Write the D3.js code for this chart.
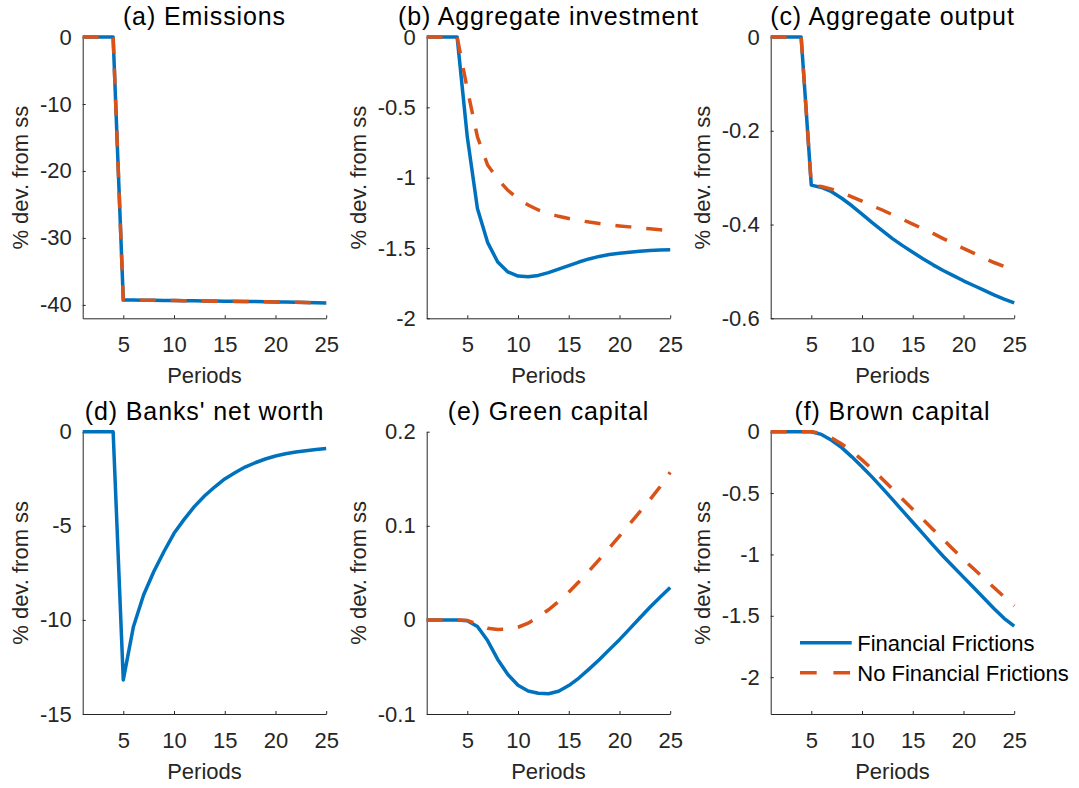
<!DOCTYPE html>
<html>
<head>
<meta charset="utf-8">
<script src="https://cdn.jsdelivr.net/npm/d3@7"></script>
<style>
  body { margin: 0; background: #fff; }
  svg { display: block; font-family: "Liberation Sans", Arial, Helvetica, sans-serif; }
</style>
</head>
<body>
<div id="chart"></div>
<script>
// periods on the x axis
const periods = [1, 2, 3, 4, 5, 6, 7, 8, 9, 10, 11, 12, 13, 14, 15, 16, 17, 18, 19, 20, 21, 22, 23, 24, 25];
const xTicks = [5, 10, 15, 20, 25];

// FF = financial frictions, NFF = no financial frictions
const emissionsFF = [0, 0, 0, 0, -39.25, -39.27, -39.29, -39.31, -39.33, -39.35, -39.37, -39.39, -39.41, -39.43, -39.45, -39.47, -39.49, -39.51, -39.53, -39.55, -39.58, -39.61, -39.64, -39.67, -39.7];
const emissionsNFF = [0, 0, 0, 0, -39.25, -39.28, -39.3, -39.32, -39.34, -39.36, -39.38, -39.4, -39.42, -39.44, -39.46, -39.48, -39.5, -39.52, -39.54, -39.56, -39.59, -39.62, -39.65, -39.68, -39.71];

const investmentFF = [0, 0, 0, 0, -0.71, -1.22, -1.46, -1.6, -1.67, -1.7, -1.705, -1.695, -1.675, -1.65, -1.625, -1.6, -1.578, -1.56, -1.547, -1.537, -1.53, -1.523, -1.518, -1.515, -1.513];
const investmentNFF = [0, 0, 0, 0, -0.37, -0.71, -0.91, -1.01, -1.09, -1.15, -1.195, -1.23, -1.255, -1.275, -1.29, -1.304, -1.316, -1.326, -1.335, -1.343, -1.35, -1.357, -1.364, -1.37, -1.377];

const outputFF = [0, 0, 0, 0, -0.316, -0.321, -0.33, -0.344, -0.36, -0.378, -0.396, -0.413, -0.43, -0.445, -0.459, -0.473, -0.486, -0.498, -0.509, -0.52, -0.53, -0.54, -0.55, -0.559, -0.567];
const outputNFF = [0, 0, 0, 0, -0.316, -0.319, -0.3245, -0.332, -0.341, -0.35, -0.36, -0.369, -0.379, -0.389, -0.399, -0.409, -0.419, -0.43, -0.44, -0.451, -0.461, -0.471, -0.481, -0.489, -0.496];

const netWorthFF = [0, 0, 0, 0, -13.19, -10.36, -8.68, -7.44, -6.38, -5.4, -4.66, -3.98, -3.42, -2.94, -2.51, -2.18, -1.88, -1.65, -1.45, -1.29, -1.17, -1.08, -1.01, -0.94, -0.89];

const greenFF = [0, 0, 0, 0, -0.001, -0.007, -0.022, -0.042, -0.058, -0.0695, -0.0755, -0.078, -0.0785, -0.0758, -0.0698, -0.0618, -0.0523, -0.0424, -0.0316, -0.021, -0.0095, 0.002, 0.0135, 0.024, 0.0345];
const greenNFF = [0, 0, 0, 0, -0.0005, -0.0046, -0.0088, -0.0102, -0.0099, -0.0078, -0.0035, 0.003, 0.0108, 0.0195, 0.0295, 0.0405, 0.052, 0.064, 0.0765, 0.089, 0.1018, 0.1147, 0.1277, 0.1415, 0.157];

const brownFF = [0, 0, 0, 0, 0, -0.022, -0.07, -0.13, -0.205, -0.285, -0.37, -0.46, -0.552, -0.645, -0.738, -0.831, -0.924, -1.015, -1.1, -1.185, -1.27, -1.355, -1.44, -1.52, -1.585];
const brownNFF = [0, 0, 0, 0, 0, -0.015, -0.05, -0.1, -0.16, -0.23, -0.305, -0.385, -0.467, -0.55, -0.632, -0.714, -0.796, -0.878, -0.96, -1.04, -1.117, -1.193, -1.269, -1.345, -1.42];

const titles = ['(a) Emissions', '(b) Aggregate investment', '(c) Aggregate output', "(d) Banks' net worth", '(e) Green capital', '(f) Brown capital'];
const yDomains = [[-42, 0], [-2, 0], [-0.6, 0], [-15, 0], [-0.1, 0.2], [-2.3, 0]];
const yTicks = [
  [-40, -30, -20, -10, 0],
  [-2, -1.5, -1, -0.5, 0],
  [-0.6, -0.4, -0.2, 0],
  [-15, -10, -5, 0],
  [-0.1, 0, 0.1, 0.2],
  [-2, -1.5, -1, -0.5, 0],
];
const seriesFF = [emissionsFF, investmentFF, outputFF, netWorthFF, greenFF, brownFF];
const seriesNFF = [emissionsNFF, investmentNFF, outputNFF, null, greenNFF, brownNFF];
const legendLabels = ['Financial Frictions', 'No Financial Frictions'];

const WIDTH = 1079;
const HEIGHT = 788;
const BLUE = '#0072BD';
const ORANGE = '#D95319';
const AXIS = '#262626';
const LW = 3.5;

const colLeft = [82.7, 426.7, 770.7];
const plotW = 243.5;
const rowTop = [37, 431.7];
const rowH = [281.3, 282.3];

const svg = d3
  .select('#chart')
  .append('svg')
  .attr('width', WIDTH)
  .attr('height', HEIGHT);

titles.forEach((title, i) => {
  const col = i % 3;
  const row = Math.floor(i / 3);
  const w = plotW;
  const h = rowH[row];

  const g = svg.append('g').attr('transform', 'translate(' + colLeft[col] + ',' + rowTop[row] + ')');

  const x = d3.scaleLinear().domain([1, 25]).range([0, w]);
  const y = d3.scaleLinear().domain(yDomains[i]).range([h, 0]);

  // x axis, ticks pointing inward like matlab
  const xAxis = g
    .append('g')
    .attr('transform', 'translate(0,' + h + ')')
    .call(d3.axisBottom(x).tickValues(xTicks).tickSizeInner(-3).tickSizeOuter(0).tickPadding(18).tickFormat(d => String(d)));

  const yAxis = g
    .append('g')
    .call(d3.axisLeft(y).tickValues(yTicks[i]).tickSizeInner(-3).tickSizeOuter(0).tickPadding(11).tickFormat(d => String(d)));

  [xAxis, yAxis].forEach(ax => {
    ax.selectAll('path, line').attr('stroke', AXIS).attr('stroke-width', 1);
    ax.selectAll('text').attr('fill', AXIS).style('font-size', '22px');
  });

  // y label sits left of widest tick label
  let maxW = 0;
  yAxis.selectAll('.tick text').each(function () {
    maxW = Math.max(maxW, this.getBBox().width);
  });

  g.append('text')
    .attr('transform', 'translate(' + (-11 - maxW - 11.5) + ',' + h / 2 + ') rotate(-90)')
    .attr('text-anchor', 'middle')
    .attr('fill', AXIS)
    .style('font-size', '22px')
    .text('% dev. from ss');

  g.append('text')
    .attr('x', w / 2)
    .attr('y', h + 65)
    .attr('text-anchor', 'middle')
    .attr('fill', AXIS)
    .style('font-size', '22px')
    .text('Periods');

  g.append('text')
    .attr('x', w / 2)
    .attr('y', -12)
    .attr('text-anchor', 'middle')
    .attr('fill', '#000')
    .style('font-size', '25px')
    .style('letter-spacing', '0.9px')
    .text(title);

  const line = d3
    .line()
    .x((d, k) => x(periods[k]))
    .y(d => y(d));

  g.append('path')
    .datum(seriesFF[i])
    .attr('d', line)
    .attr('fill', 'none')
    .attr('stroke', BLUE)
    .attr('stroke-width', LW)
    .attr('stroke-linejoin', 'round');

  if (seriesNFF[i]) {
    g.append('path')
      .datum(seriesNFF[i])
      .attr('d', line)
      .attr('fill', 'none')
      .attr('stroke', ORANGE)
      .attr('stroke-width', LW)
      .attr('stroke-dasharray', '16,15');
  }

  // legend lives in the last panel
  if (i === 5) {
    const leg = g.append('g').attr('transform', 'translate(' + (800 - colLeft[col]) + ',' + (642.7 - rowTop[row]) + ')');
    legendLabels.forEach((lab, k) => {
      leg
        .append('line')
        .attr('x1', 0)
        .attr('x2', 51.7)
        .attr('y1', k * 30)
        .attr('y2', k * 30)
        .attr('stroke', k === 0 ? BLUE : ORANGE)
        .attr('stroke-width', LW)
        .attr('stroke-dasharray', k === 0 ? null : '16.7,16.7');
      leg
        .append('text')
        .attr('x', 57.3)
        .attr('y', k * 30 + 8.5)
        .attr('fill', '#000')
        .style('font-size', '22px')
        .text(lab);
    });
  }
});
</script>
</body>
</html>
